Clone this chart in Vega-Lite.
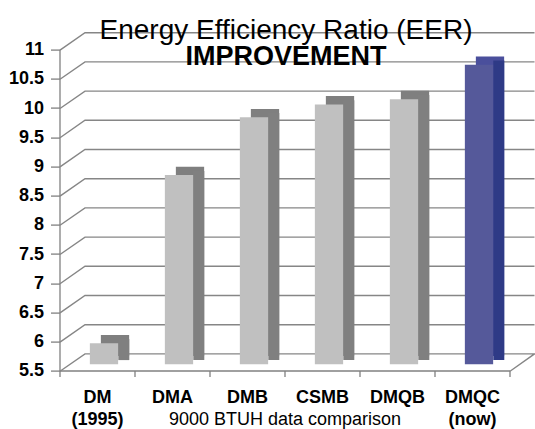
{
  "$schema": "https://vega.github.io/schema/vega-lite/v6.json",
  "width": 450,
  "height": 321.2,
  "autosize": {"type": "none"},
  "padding": {"left": 66.5, "top": 43.1, "right": 18.5, "bottom": 64.7},
  "background": "white",
  "title": {
    "text": "Energy Efficiency Ratio (EER)",
    "subtitle": "IMPROVEMENT",
    "font": "Liberation Sans",
    "fontSize": 28,
    "fontWeight": "normal",
    "color": "black",
    "subtitleFont": "Liberation Sans",
    "subtitleFontSize": 27,
    "subtitleFontWeight": "bold",
    "subtitleColor": "black",
    "subtitlePadding": -1,
    "anchor": "middle",
    "frame": "group",
    "dx": -5.5,
    "dy": 4,
    "offset": -36
  },
  "datasets": {
    "eer": [
      {"Model": "DM (1995)", "EER": 5.86},
      {"Model": "DMA", "EER": 8.74},
      {"Model": "DMB", "EER": 9.73},
      {"Model": "CSMB", "EER": 9.95},
      {"Model": "DMQB", "EER": 10.04},
      {"Model": "DMQC (now)", "EER": 10.63}
    ],
    "grid": [
      {"v": 5.5}, {"v": 6}, {"v": 6.5}, {"v": 7}, {"v": 7.5}, {"v": 8},
      {"v": 8.5}, {"v": 9}, {"v": 9.5}, {"v": 10}, {"v": 10.5}, {"v": 11}
    ]
  },
  "layer": [
    {
      "data": {"name": "grid"},
      "mark": {"type": "point", "filled": false, "size": 4, "stroke": "#868686", "strokeWidth": 1.4, "opacity": 1},
      "encoding": {
        "y": {
          "field": "v", "type": "quantitative",
          "scale": {"domain": [5.5, 11], "zero": false, "nice": false},
          "axis": {
            "values": [5.5, 6, 6.5, 7, 7.5, 8, 8.5, 9, 9.5, 10, 10.5, 11],
            "tickCount": 20,
            "format": "~g",
            "labelOverlap": false,
            "title": null
          }
        },
        "shape": {
          "condition": {"test": "datum.v === 5.5", "value": "M-231.5,7L-206.5,-10.4L243,-10.4L218.5,7"},
          "value": "M-231.5,7L-206.5,-10.4L243,-10.4"
        }
      }
    },
    {
      "data": {"name": "eer"},
      "mark": {"type": "bar", "width": {"band": 0.377}, "xOffset": 11, "yOffset": -8.3, "y2Offset": -8.3},
      "encoding": {
        "x": {
          "field": "Model", "type": "nominal", "sort": null,
          "scale": {"paddingInner": 0, "paddingOuter": 0},
          "axis": {
            "labelExpr": "split(datum.label, ' ')",
            "title": "9000 BTUH data comparison"
          }
        },
        "y": {"field": "EER", "type": "quantitative"},
        "y2": {"datum": 5.5},
        "color": {"condition": {"test": "datum.Model === 'DMQC (now)'", "value": "#4a4f9c"}, "value": "#7f7f7f"}
      }
    },
    {
      "data": {"name": "eer"},
      "mark": {"type": "bar", "width": 11, "xOffset": 19.8, "yOffset": -4.2, "y2Offset": -4.2},
      "encoding": {
        "x": {"field": "Model", "type": "nominal", "sort": null},
        "y": {"field": "EER", "type": "quantitative"},
        "y2": {"datum": 5.5},
        "color": {"condition": {"test": "datum.Model === 'DMQC (now)'", "value": "#2e3a86"}, "value": "#808080"}
      }
    },
    {
      "data": {"name": "eer"},
      "mark": {"type": "bar", "width": {"band": 0.377}},
      "encoding": {
        "x": {"field": "Model", "type": "nominal", "sort": null},
        "y": {"field": "EER", "type": "quantitative"},
        "y2": {"datum": 5.5},
        "color": {"condition": {"test": "datum.Model === 'DMQC (now)'", "value": "#55599a"}, "value": "#c0c0c0"}
      }
    }
  ],
  "config": {
    "view": {"stroke": null},
    "font": "Liberation Sans",
    "axis": {
      "grid": false,
      "tickColor": "#808080",
      "tickWidth": 1.3,
      "domainColor": "#808080",
      "domainWidth": 1.3,
      "labelOverlap": false,
      "labelFont": "Liberation Sans",
      "labelFontSize": 18,
      "labelFontWeight": "bold",
      "labelColor": "black",
      "titleFont": "Liberation Sans",
      "titleFontSize": 18,
      "titleFontWeight": "normal",
      "titleColor": "black"
    },
    "axisY": {
      "translate": 7,
      "offset": 13.5,
      "tickSize": 9,
      "labelPadding": 7
    },
    "axisX": {
      "orient": "bottom",
      "tickBand": "extent",
      "translate": -6.5,
      "offset": 13.2,
      "tickSize": 6,
      "labelAngle": 0,
      "labelPadding": 12,
      "labelLineHeight": 22,
      "titleY": 54,
      "titleBaseline": "alphabetic"
    }
  }
}
